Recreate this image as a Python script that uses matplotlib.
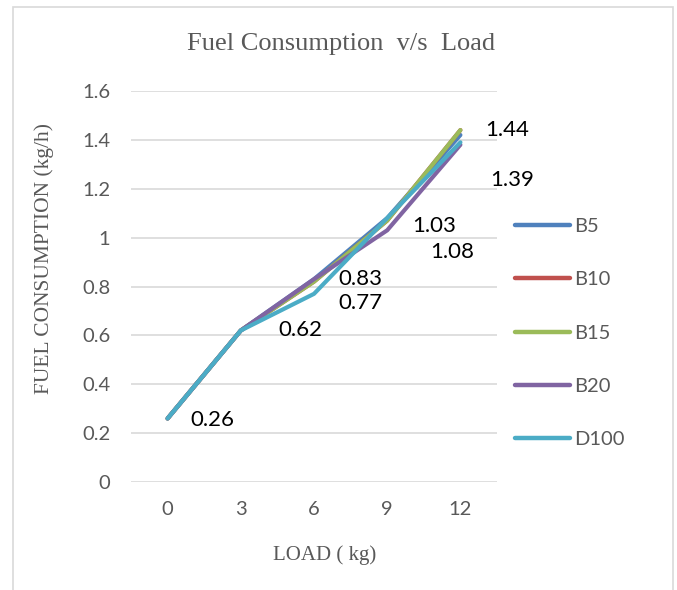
import numpy as np
import matplotlib.pyplot as plt
from matplotlib.patches import Rectangle

# Datos
loads = ["0", "3", "6", "9", "12"]
series_names = ["B5", "B10", "B15", "B20", "D100"]
b5 = [0.26, 0.62, 0.83, 1.08, 1.42]
b10 = [0.26, 0.62, 0.82, 1.07, 1.44]
b15 = [0.26, 0.62, 0.82, 1.07, 1.44]
b20 = [0.26, 0.62, 0.83, 1.03, 1.38]
d100 = [0.26, 0.62, 0.77, 1.08, 1.39]
colors = ["#4F81BD", "#C0504D", "#9BBB59", "#8064A2", "#4BACC6"]

# Etiquetas de datos (indice de carga, valor)
label_idx = [0, 1, 2, 2, 3, 3, 4, 4]
label_vals = [0.26, 0.62, 0.83, 0.77, 1.03, 1.08, 1.44, 1.39]
label_offsets = [(45, -2), (60, 0), (46, 0), (46, -9), (47, 4), (65, -34), (47, 0), (52, -38)]

fig = plt.figure(figsize=(6.77, 5.90), dpi=100)
ax = fig.add_axes([131 / 677, 1 - 482 / 590, 366 / 677, 391 / 590])

# marco exterior
fig.patches.append(Rectangle((13 / 677, -0.05), 660 / 677, 1.05 - 7 / 590,
                             transform=fig.transFigure, fill=False,
                             edgecolor="#d9d9d9", linewidth=1.2))

x = np.arange(len(loads))
for name, vals, c in zip(series_names, [b5, b10, b15, b20, d100], colors):
    ax.plot(x, vals, color=c, linewidth=3.0, solid_capstyle="round",
            solid_joinstyle="round", label=name)

for i, v, (dx, dy) in zip(label_idx, label_vals, label_offsets):
    ax.annotate(f"{v:.2f}", (x[i], v), xytext=(dx * 0.72, dy * 0.72),
                textcoords="offset points", ha="center", va="center",
                fontsize=16, family="Lato", color="black")

ax.set_xlim(-0.5, len(loads) - 0.5)
ax.set_ylim(0, 1.6)
ax.set_xticks(x)
ax.set_xticklabels(loads)
ax.set_yticks(np.arange(0, 1.61, 0.2))
ax.set_yticklabels(["0", "0.2", "0.4", "0.6", "0.8", "1", "1.2", "1.4", "1.6"])
ax.tick_params(length=0, labelsize=14.5, labelcolor="#595959")
for lab in ax.get_xticklabels() + ax.get_yticklabels():
    lab.set_family("Lato")
ax.tick_params(axis="y", pad=15)
ax.tick_params(axis="x", pad=14)
ax.grid(axis="y", color="#d9d9d9", linewidth=1.2)
ax.set_axisbelow(True)
for s in ax.spines.values():
    s.set_visible(False)

fig.text(341 / 677, 1 - 44 / 590, "Fuel Consumption  v/s  Load", ha="center", va="center",
         fontsize=19, family="Liberation Serif", color="#595959")
fig.text(325 / 677, 1 - 555 / 590, "LOAD ( kg)", ha="center", va="center",
         fontsize=15, family="Liberation Serif", color="#595959")
fig.text(44 / 677, 1 - 258 / 590, "FUEL CONSUMPTION (kg/h)", ha="center", va="center",
         rotation=90, fontsize=15.5, family="Liberation Serif", color="#595959")

leg = ax.legend(loc="center left", bbox_to_anchor=(497 / 677, 1 - 333 / 590),
                bbox_transform=fig.transFigure, frameon=False, handlelength=2.7,
                labelspacing=1.8, handletextpad=0.25, prop={"family": "Lato", "size": 14.5})
for t in leg.get_texts():
    t.set_color("#595959")
for h in leg.get_lines():
    h.set_linewidth(3.2)
    h.set_solid_capstyle("round")

plt.savefig("out.png", dpi=100)
